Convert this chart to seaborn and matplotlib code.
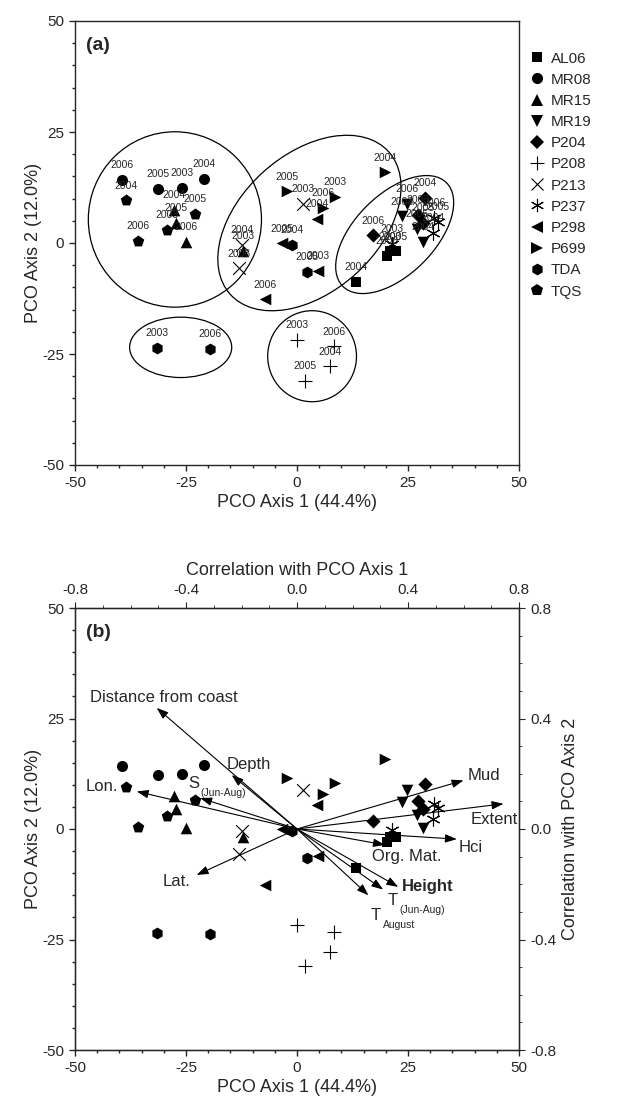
import matplotlib
matplotlib.use('Agg')
import matplotlib.pyplot as plt
import seaborn as sns
import pandas as pd
from matplotlib.patches import Ellipse
from matplotlib.lines import Line2D
from matplotlib.ticker import MultipleLocator

# sites and markers
sites = ['AL06', 'MR08', 'MR15', 'MR19', 'P204', 'P208', 'P213', 'P237',
         'P298', 'P699', 'TDA', 'TQS']
site_markers = {'AL06': 's', 'MR08': 'o', 'MR15': '^', 'MR19': 'v', 'P204': 'D',
                'P208': '+', 'P213': 'x', 'P237': (6, 2, 0), 'P298': '<',
                'P699': '>', 'TDA': 'h', 'TQS': 'p'}
# matplotlib draws some shapes smaller than others, so scale them a bit
marker_scale = {'s': 0.92, 'o': 1.05, '^': 1.1, 'v': 1.1, 'D': 0.95, '+': 1.3,
                'x': 1.2, '<': 1.1, '>': 1.1, 'h': 1.12, 'p': 1.15}

# PCO scores (site, year, axis 1, axis 2)
pt_site = ['AL06'] * 4 + ['MR08'] * 4 + ['MR15'] * 4 + ['MR19'] * 4 + ['P204'] * 4 + \
          ['P208'] * 4 + ['P213'] * 3 + ['P237'] * 4 + ['P298'] * 4 + ['P699'] * 4 + \
          ['TDA'] * 4 + ['TQS'] * 4
pt_year = ['2003', '2005', '2006', '2004',
           '2006', '2005', '2003', '2004',
           '2004', '2005', '2006', '2003',
           '2006', '2003', '2005', '2004',
           '2004', '2003', '2005', '2006',
           '2003', '2006', '2004', '2005',
           '2003', '2004', '2006',
           '2005', '2006', '2004', '2003',
           '2004', '2005', '2003', '2006',
           '2005', '2003', '2006', '2004',
           '2003', '2006', '2005', '2004',
           '2004', '2005', '2003', '2006']
pco1 = [21.0, 22.4, 20.2, 13.3,
        -39.5, -31.4, -25.9, -20.9,
        -27.6, -27.3, -25.1, -12.1,
        24.7, 23.6, 27.0, 28.3,
        28.8, 27.3, 28.3, 17.2,
        -0.1, 8.3, 7.4, 1.7,
        1.4, -12.3, -13.1,
        31.8, 30.8, 30.7, 21.5,
        4.4, -3.4, 4.8, -7.2,
        -2.3, 8.6, 5.9, 19.8,
        -31.6, -19.7, 2.2, -1.2,
        -38.6, -23.0, -29.2, -35.7]
pco2 = [-1.9, -1.9, -2.9, -8.8,
        14.3, 12.2, 12.5, 14.4,
        7.5, 4.5, 0.3, -1.7,
        8.8, 6.0, 3.2, 0.2,
        10.2, 6.3, 4.5, 1.7,
        -21.8, -23.3, -27.8, -31.0,
        8.8, -0.4, -5.7,
        4.8, 5.6, 2.2, -0.2,
        5.4, -0.1, -6.2, -12.7,
        11.6, 10.4, 7.9, 15.9,
        -23.6, -23.8, -6.5, -0.5,
        9.6, 6.6, 2.9, 0.4]

# group ellipses in panel (a)
ell_x = [-27.5, 2.8, 22.0, -26.2, 3.4]
ell_y = [5.3, 4.5, 1.9, -23.5, -25.5]
ell_w = [39.0, 48.0, 33.0, 23.0, 20.0]
ell_h = [39.5, 31.0, 18.0, 13.6, 20.5]
ell_angle = [0, 42, 45, 0, 0]

# environmental vectors in panel (b), end points in PCO units
vec_names = ['Distance from coast', 'Depth', 'S', 'Lon.', 'Lat.', 'Mud', 'Extent',
             'Hci', 'Org. Mat.', 'Height', 'T', 'T']
vec_sub = ['', '', '(Jun-Aug)', '', '', '', '', '', '', '', '(Jun-Aug)', 'August']
vec_x = [-31.6, -14.7, -21.8, -36.1, -22.6, 37.5, 46.5, 36.0, 19.8, 22.8, 19.4, 16.1]
vec_y = [27.4, 12.2, 7.0, 8.5, -10.4, 11.0, 5.7, -2.3, -3.6, -13.1, -13.7, -15.0]
# where each vector label sits
lab_x = [-46.6, -15.8, -24.5, -47.7, -30.2, 38.5, 39.0, 36.3, 16.8, 23.6, 20.3, 16.5]
lab_y = [29.7, 14.7, 10.4, 9.6, -11.8, 12.2, 2.2, -4.2, -6.3, -13.1, -16.1, -19.5]

df = pd.DataFrame({'site': pt_site, 'year': pt_year, 'pco1': pco1, 'pco2': pco2})

sns.set_style("ticks")
plt.rcParams['font.family'] = ['Liberation Sans', 'DejaVu Sans']
plt.rcParams['axes.unicode_minus'] = False
plt.rcParams['xtick.major.size'] = 4.5
plt.rcParams['ytick.major.size'] = 4.5
plt.rcParams['xtick.minor.size'] = 2.5
plt.rcParams['ytick.minor.size'] = 2.5

fig = plt.figure(figsize=(6.33, 11.15), dpi=100)
W, H = 633, 1115
ax1 = fig.add_axes([75 / W, 1 - 465 / H, 444 / W, 444 / H])
ax2 = fig.add_axes([75 / W, 1 - 1050 / H, 444 / W, 442 / H])


def is_line_marker(m):
    return m in ('+', 'x') or isinstance(m, tuple)


def msize(m):
    # marker size in points (diameter)
    if isinstance(m, tuple):
        return 9.5
    return 7.6 * marker_scale.get(m, 1.0)


def draw_points(ax):
    for s in sites:
        sub = df[df['site'] == s]
        m = site_markers[s]
        lw = 0.8 if is_line_marker(m) else 0
        sns.scatterplot(data=sub, x='pco1', y='pco2', marker=m, color='black',
                        s=msize(m) ** 2, linewidth=lw, edgecolor='black',
                        ax=ax, legend=False, zorder=3)


def style_axes(ax):
    ax.set_xlim(-50, 50)
    ax.set_ylim(-50, 50)
    ax.set_xticks([-50, -25, 0, 25, 50])
    ax.set_yticks([-50, -25, 0, 25, 50])
    ax.xaxis.set_minor_locator(MultipleLocator(5))
    ax.yaxis.set_minor_locator(MultipleLocator(5))
    ax.tick_params(labelsize=11, width=1)
    ax.tick_params(which='minor', width=1)
    for sp in ax.spines.values():
        sp.set_linewidth(1.0)
        sp.set_visible(True)
    ax.set_xlabel('PCO Axis 1 (44.4%)', fontsize=13, labelpad=3)
    ax.set_ylabel('PCO Axis 2 (12.0%)', fontsize=13, labelpad=0)


# ---- panel (a)
draw_points(ax1)
for i in range(len(ell_x)):
    ax1.add_patch(Ellipse((ell_x[i], ell_y[i]), ell_w[i], ell_h[i], angle=ell_angle[i],
                          fill=False, lw=0.9, ec='black', zorder=2))
for _, r in df.iterrows():
    ax1.text(r['pco1'], r['pco2'] + 2.2, r['year'], fontsize=7.5, ha='center',
             va='bottom', zorder=4)
style_axes(ax1)
ax1.text(-47.5, 44.5, '(a)', fontsize=14, fontweight='bold', va='center')

handles = [Line2D([], [], marker=site_markers[s], ls='', color='black',
                  markersize=msize(site_markers[s]),
                  markeredgewidth=0.8 if is_line_marker(site_markers[s]) else 0)
           for s in sites]
ax1.legend(handles, sites, loc='upper left', bbox_to_anchor=(1.01, 0.945),
           frameon=False, fontsize=11, labelspacing=0.47, handletextpad=0.4,
           handlelength=1.0, borderaxespad=0)

# ---- panel (b)
draw_points(ax2)
for i in range(len(vec_x)):
    ax2.annotate('', xy=(vec_x[i], vec_y[i]), xytext=(0, 0),
                 arrowprops=dict(arrowstyle='-|>,head_length=0.5,head_width=0.18',
                                 color='black', lw=0.8,
                                 mutation_scale=14, shrinkA=0, shrinkB=0), zorder=4)
    weight = 'bold' if vec_names[i] == 'Height' else 'normal'
    ax2.text(lab_x[i], lab_y[i], vec_names[i], fontsize=12, ha='left',
             va='center', fontweight=weight, zorder=5)
    if vec_sub[i]:
        ax2.annotate(vec_sub[i], xy=(lab_x[i], lab_y[i]), xytext=(9, -7),
                     textcoords='offset points', fontsize=7.5, ha='left', va='center')
style_axes(ax2)
ax2.text(-47.5, 44.5, '(b)', fontsize=14, fontweight='bold', va='center')

top = ax2.twiny()
top.set_xlim(-0.8, 0.8)
top.set_xticks([-0.8, -0.4, 0.0, 0.4, 0.8])
top.set_xticklabels(['-0.8', '-0.4', '0.0', '0.4', '0.8'])
top.xaxis.set_minor_locator(MultipleLocator(0.1))
top.tick_params(labelsize=11)
top.set_xlabel('Correlation with PCO Axis 1', fontsize=13, labelpad=6)

right = ax2.twinx()
right.set_ylim(-0.8, 0.8)
right.set_yticks([-0.8, -0.4, 0.0, 0.4, 0.8])
right.set_yticklabels(['-0.8', '-0.4', '0.0', '0.4', '0.8'])
right.yaxis.set_minor_locator(MultipleLocator(0.1))
right.tick_params(labelsize=11)
right.set_ylabel('Correlation with PCO Axis 2', fontsize=13, labelpad=4)

fig.savefig('out.png', dpi=100)
